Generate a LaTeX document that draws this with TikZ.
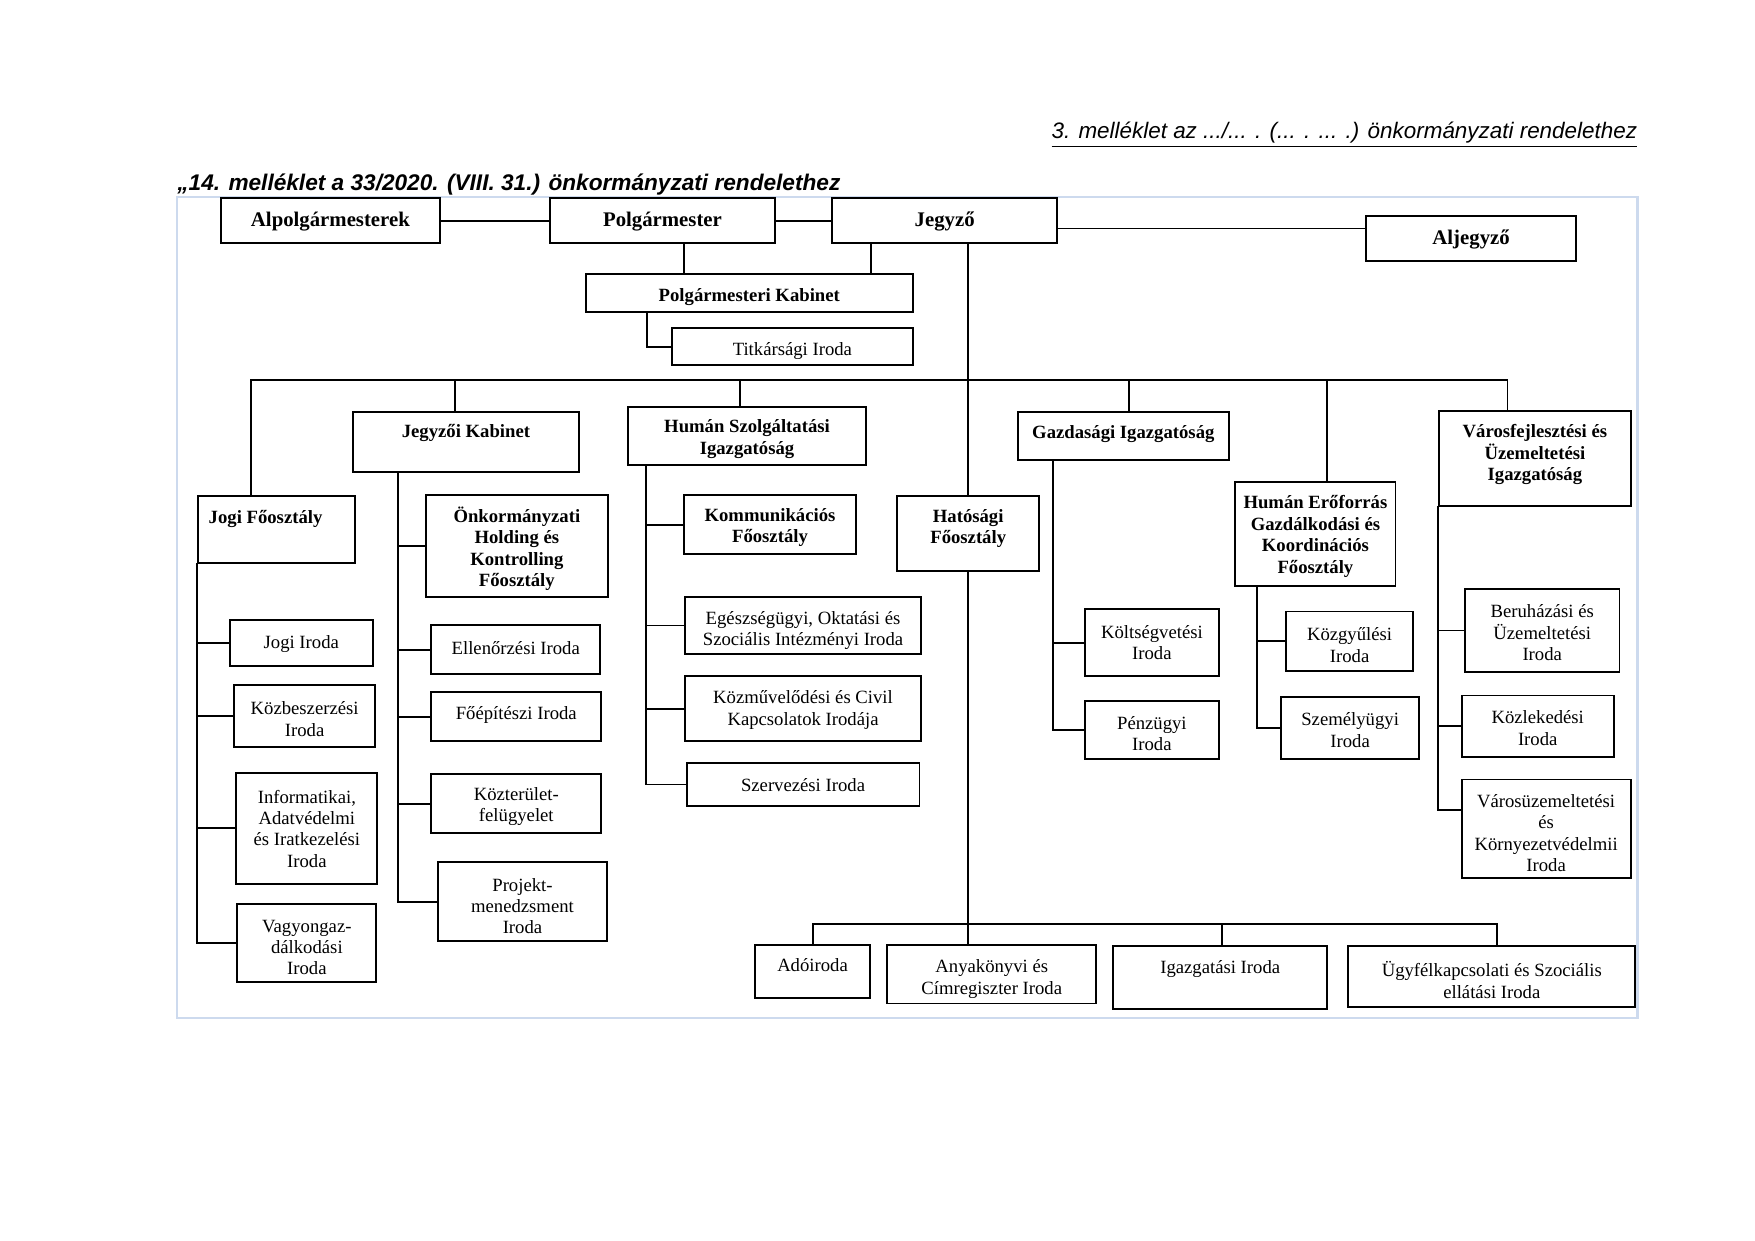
\documentclass[tikz,border=0pt]{standalone}
\usepackage{fontspec}
\setmainfont{Liberation Serif}
\newfontfamily\arialf{Liberation Sans}
\usetikzlibrary{fit}
\definecolor{framec}{RGB}{205,218,238}
\newcommand\obox[8][txt]{%
  \node[obx, fit={(#3,#4) (#5,#6)}] (#2) {};
  \node[#1] (#2-t) at ({(#3+#5)/2},{#7+2}) {#8};}
\begin{document}
\begin{tikzpicture}[x=0.18954mm, y=-0.18954mm,
  obx/.style={draw=black, fill=white, line width=0.95pt, inner sep=0pt},
  txt/.style={inner sep=0pt, align=center, font=\fontsize{9}{10.3}\selectfont},
  txtb/.style={inner sep=0pt, align=center, font=\fontsize{9}{10.3}\selectfont\bfseries},
  txtt/.style={inner sep=0pt, align=center, font=\fontsize{10}{12}\selectfont\bfseries},
  ln/.style={line width=0.9pt, line cap=rect}]
\fill[white] (0,0) rectangle (1567,1108);
\useasboundingbox (0,0) rectangle (1567,1108);
% headers
\node[anchor=base east, inner sep=0pt, font=\arialf\fontsize{10.8}{13}\selectfont\itshape] (h1) at (1462,124) {\underline{3. melléklet az .../... . (... . ... .) önkormányzati rendelethez}};
\node[anchor=base west, inner sep=0pt, font=\arialf\fontsize{10.9}{13}\selectfont\bfseries\itshape] (h2) at (158,170) {„14. melléklet a 33/2020. (VIII. 31.) önkormányzati rendelethez};
% frame
\draw[draw=framec, line width=1.1pt] (158,176) rectangle (1462,909);
% boxes
\obox[txtt]{alp}{197}{177}{393}{217}{196}{Alpolgármesterek}
\obox[txtt]{polg}{491}{177}{692}{217}{196}{Polgármester}
\obox[txtt]{jegyzo}{743}{177}{944}{217}{196}{Jegyző}
\obox[txtt]{aljegyzo}{1220}{193}{1407}{233}{212}{Aljegyző}
\obox[txtb]{kab}{523}{245}{815}{279}{263}{Polgármesteri Kabinet}
\obox{titk}{600}{293}{815}{326}{311}{Titkársági Iroda}
\node[obx, fit={(177,443) (317,503)}] (jogi) {};
\node[txtb, anchor=west] (jogi-t) at (186,463) {Jogi Főosztály};
\obox[txtb]{jk}{315}{368}{517}{421}{385}{Jegyzői Kabinet}
\obox[txtb]{hsz}{561}{363}{773}{415}{390}{Humán Szolgáltatási\\Igazgatóság}
\obox[txtb]{gazd}{909}{368}{1097}{411}{386}{Gazdasági Igazgatóság}
\obox[txtb]{vf}{1285}{367}{1456}{452}{404}{Városfejlesztési és\\Üzemeltetési\\Igazgatóság}
\obox[txtb]{hat}{801}{443}{928}{510}{470}{Hatósági\\Főosztály}
\obox[txtb]{he}{1103}{430}{1246}{523}{477}{Humán Erőforrás\\Gazdálkodási és\\Koordinációs\\Főosztály}
\obox[txtb]{onk}{380}{442}{543}{533}{488}{Önkormányzati\\Holding és\\Kontrolling\\Főosztály}
\obox{jiroda}{205}{554}{333}{595}{573}{Jogi Iroda}
\obox{kozb}{209}{612}{335}{667}{640}{Közbeszerzési\\Iroda}
\obox{inf}{211}{690}{337}{789}{738}{Informatikai,\\Adatvédelmi\\és Iratkezelési\\Iroda}
\obox{vagy}{212}{807}{336}{877}{844}{Vagyongaz-\\dálkodási\\Iroda}
\obox{ell}{385}{558}{536}{602}{577}{Ellenőrzési Iroda}
\obox{foep}{385}{618}{537}{662}{636}{Főépítészi Iroda}
\obox{kozt}{385}{691}{537}{744}{718}{Közterület-\\felügyelet}
\obox{proj}{391}{770}{542}{840}{807}{Projekt-\\menedzsment\\Iroda}
\obox[txtb]{komm}{611}{442}{764}{495}{469}{Kommunikációs\\Főosztály}
\obox{egesz}{612}{533}{822}{584}{561}{Egészségügyi, Oktatási és\\Szociális Intézményi Iroda}
\obox{kozm}{612}{604}{822}{662}{632}{Közművelődési és Civil\\Kapcsolatok Irodája}
\obox{szerv}{613}{681}{821}{720}{699}{Szervezési Iroda}
\obox{kolt}{969}{544}{1088}{604}{572}{Költségvetési\\Iroda}
\obox{penz}{969}{626}{1088}{678}{653}{Pénzügyi\\Iroda}
\obox{kozgy}{1148}{546}{1262}{599}{574}{Közgyűlési\\Iroda}
\obox{szem}{1144}{622}{1267}{678}{650}{Személyügyi\\Iroda}
\obox{ber}{1308}{526}{1446}{600}{563}{Beruházási és\\Üzemeltetési\\Iroda}
\obox{kozl}{1305}{621}{1441}{676}{648}{Közlekedési\\Iroda}
\obox{varos}{1305}{696}{1456}{784}{742}{Városüzemeltetési\\és\\Környezetvédelmii\\Iroda}
\obox{ado}{674}{844}{777}{891}{860}{Adóiroda}
\obox{ank}{792}{844}{979}{896}{872}{Anyakönyvi és\\Címregiszter Iroda}
\obox{igazg}{994}{845}{1185}{901}{863}{Igazgatási Iroda}
\obox{ugyf}{1204}{845}{1460}{899}{873}{Ügyfélkapcsolati és Szociális\\ellátási Iroda}
% connectors: top
\draw[ln] (alp) -- (polg);
\draw[ln] (polg) -- (jegyzo);
\draw[ln] (jegyzo.east) ++(0,7) coordinate (aj) -- (aj -| aljegyzo.west);
\draw[ln] (polg.south -| 611,0) -- (kab.north -| 611,0);
\draw[ln] (jegyzo.south -| 778,0) -- (kab.north -| 778,0);
\draw[ln] (kab.south -| 578,0) |- (titk.west);
\draw[ln] (jegyzo.south -| 864,0) -- (hat.north -| 864,0);
\draw[ln] (hat.south -| 864,0) -- (ank.north -| 864,0);
% main bar
\draw[ln] (jogi.north -| 224,0) -- (224,339) -- (1346,339) -- (vf.north -| 1346,0);
\draw[ln] (406,339) -- (jk.north -| 406,0);
\draw[ln] (661,339) -- (hsz.north -| 661,0);
\draw[ln] (1008,339) -- (gazd.north -| 1008,0);
\draw[ln] (1185,339) -- (he.north -| 1185,0);
% Jogi column
\draw[ln] (jogi.south west) |- (vagy.west);
\foreach \n in {jiroda,kozb,inf} \draw[ln] (jogi.south west |- \n.west) -- (\n.west);
% Jegyzoi Kabinet column
\draw[ln] (jk.south -| 355,0) |- (proj.west);
\foreach \n in {onk,ell,foep,kozt} \draw[ln] (355,0 |- \n.west) -- (\n.west);
% Human Szolg column
\draw[ln] (hsz.south -| 577,0) |- (szerv.west);
\foreach \n in {komm,egesz,kozm} \draw[ln] (577,0 |- \n.west) -- (\n.west);
% Gazdasagi column
\draw[ln] (gazd.south -| 940,0) |- (penz.west);
\draw[ln] (940,0 |- kolt.west) -- (kolt.west);
% Human Eroforras column
\draw[ln] (he.south -| 1122,0) |- (szem.west);
\draw[ln] (1122,0 |- kozgy.west) -- (kozgy.west);
% Varosfejlesztesi column
\draw[ln] (vf.south west) |- (varos.west |- 0,723);
\foreach \n in {ber,kozl} \draw[ln] (vf.south west |- \n.west) -- (\n.west);
% bottom row
\draw[ln] (ado.north -| 726,0) -- (726,825) -- (1337,825) -- (ugyf.north -| 1337,0);
\draw[ln] (1091,825) -- (igazg.north -| 1091,0);
\end{tikzpicture}
\end{document}
